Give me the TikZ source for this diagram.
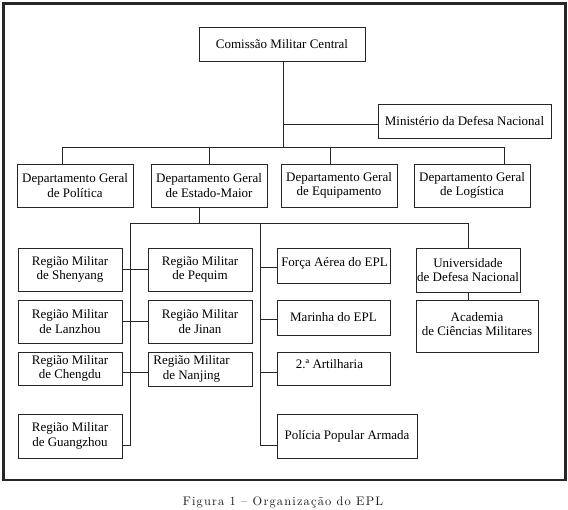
\documentclass[tikz,border=0pt]{standalone}
\usepackage{fontspec}
\newfontfamily\tnr{Liberation Serif}
\newfontfamily\capfont{lmroman10-regular}[Extension=.otf, LetterSpace=9.5]
\tikzset{
  box/.style={draw=black!85, line width=0.8pt, inner sep=0pt, align=center,
    font=\tnr\fontsize{13}{14.5}\selectfont, text=black},
  txt/.style={inner sep=0pt, align=center, font=\tnr\fontsize{13}{14.5}\selectfont, text=black},
  conn/.style={draw=black!85, line width=0.8pt},
  frame/.style={draw=black!85, line width=2.6pt}
}
\begin{document}
\begin{tikzpicture}[x=1pt,y=-1pt]
\useasboundingbox (0,0) rectangle (568,510);
\draw[frame] (3.5,3.5) rectangle (565.5,480);

% top
\node[box, minimum width=166pt, minimum height=34pt] (cmc) at (282,44) {Comissão Militar Central};
\node[box, minimum width=173pt, minimum height=34pt] (min) at (464.5,121) {Ministério da Defesa Nacional};

% departments
\node[box, minimum width=116pt, minimum height=43pt] (dpol) at (75,185.5) {Departamento Geral\\de Política};
\node[box, minimum width=116pt, minimum height=43pt] (dem) at (209,185.5) {Departamento Geral\\de Estado-Maior};
\node[box, minimum width=116pt, minimum height=43pt] (deq) at (339,185.5) {Departamento Geral\\de Equipamento};
\node[box, minimum width=116pt, minimum height=43pt] (dlog) at (472,185.5) {Departamento Geral\\de Logística};

\coordinate (hub) at (283,147);
\draw[conn] (cmc.south -| hub) -- (hub);
\draw[conn] ([yshift=-3pt]min.west) -- ([yshift=-3pt]min.west -| hub);
\draw[conn] ([xshift=-13pt]dpol.north) |- (hub);
\draw[conn] ([xshift=32pt]dlog.north) |- (hub);
\draw[conn] (dem.north) -- (dem.north |- hub);
\draw[conn] ([xshift=-9pt]deq.north) -- ([xshift=-9pt]deq.north |- hub);

% regions
\node[box, minimum width=104pt, minimum height=43pt] (shen) at (70,269.5) {Região Militar\\de Shenyang};
\node[box, minimum width=104pt, minimum height=43pt] (peq) at (200,269.5) {Região Militar\\de Pequim};
\node[box, minimum width=104pt, minimum height=43pt] (lanz) at (70,321.5) {Região Militar\\de Lanzhou};
\node[box, minimum width=104pt, minimum height=43pt] (jin) at (200,321.5) {Região Militar\\de Jinan};
\node[box, minimum width=104pt, minimum height=33pt] (cheng) at (70,368.5) {Região Militar\\de Chengdu};
\node[box, minimum width=104pt, minimum height=34pt] (nanj) at (200,369) {};
\node[txt] (nanjt) at (191.5,369) {Região Militar\\de Nanjing};
\node[box, minimum width=104pt, minimum height=44pt] (guang) at (70,436) {Região Militar\\de Guangzhou};

% services
\node[box, minimum width=113pt, minimum height=35pt] (forca) at (333.5,265.5) {};
\node[txt] (forcat) at (334.5,263.5) {Força Aérea do EPL};
\node[box, minimum width=113pt, minimum height=35pt] (mar) at (333.5,317.5) {Marinha do EPL};
\node[box, minimum width=113pt, minimum height=33pt] (art) at (333.5,368.5) {};
\node[txt] (artt) at (329.5,364) {2.ª Artilharia};
\node[box, minimum width=140pt, minimum height=44pt] (pol) at (347,436) {Polícia Popular Armada};

% academies
\node[box, minimum width=104pt, minimum height=44pt] (univ) at (468,270) {Universidade\\de Defesa Nacional};
\node[box, minimum width=122pt, minimum height=52pt] (acad) at (477,326) {};
\node[txt] (acadt) at (477,324) {Academia\\de Ciências Militares};

% second level connectors
\coordinate (lt) at (130,223);
\coordinate (rt) at (260,223);
\draw[conn] ([xshift=-10pt]dem.south) -- ([xshift=-10pt]dem.south |- lt);
\draw[conn] (lt) -- (univ.north |- lt) -- (univ.north);
\draw[conn] (lt) |- ([yshift=-9pt]guang.east);
\draw[conn] (rt) |- ([yshift=-9pt]pol.west);
\draw[conn] (shen.east) -- (peq.west);
\draw[conn] (lanz.east) -- (jin.west);
\draw[conn] ([yshift=-4pt]cheng.east) -- ([yshift=-4pt]cheng.east -| nanj.west);
\draw[conn] ([yshift=-2pt]forca.west) -- ([yshift=-2pt]forca.west -| rt);
\draw[conn] ([yshift=-2pt]mar.west) -- ([yshift=-2pt]mar.west -| rt);
\draw[conn] ([yshift=-4pt]art.west) -- ([yshift=-4pt]art.west -| rt);
\draw[conn] (univ.south) -- (univ.south |- acad.north);

% caption
\node[inner sep=0pt, anchor=base, text=black!90, font=\capfont\fontsize{12.4}{15}\selectfont] (cap) at (283,505.7)
  {Figura 1 – Organização do EPL};
\end{tikzpicture}
\end{document}
